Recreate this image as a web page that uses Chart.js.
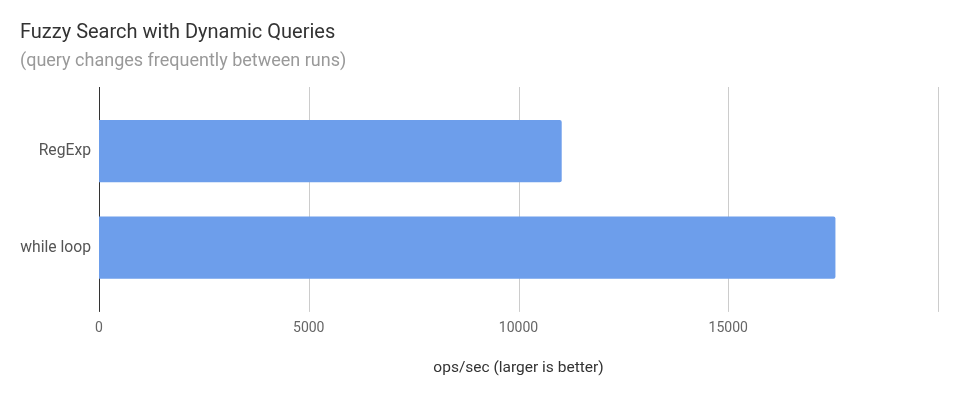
<!DOCTYPE html>
<html>
<head>
<meta charset="utf-8">
<script src="https://cdn.jsdelivr.net/npm/chart.js@4/dist/chart.umd.min.js"></script>
<style>
  html, body { margin: 0; padding: 0; background: #fff; }
  #c { display: block; }
</style>
</head>
<body>
<canvas id="c" width="958" height="398"></canvas>
<script>
// data
const categories = ['RegExp', 'while loop'];
const opsPerSec = [11030, 17555];
const xTicks = [0, 5000, 10000, 15000, 20000];

const FONT = 'Roboto, "Noto Sans", sans-serif';

// google-charts style gridlines: run a little above/below the plot area
const extendedGrid = {
  id: 'extendedGrid',
  beforeDatasetsDraw(chart) {
    const { ctx, chartArea } = chart;
    const x = chart.scales.x;
    const top = chartArea.top - 16, bottom = chartArea.bottom + 16;
    ctx.save();
    ctx.lineWidth = 1;
    xTicks.forEach((v) => {
      const px = Math.round(x.getPixelForValue(v)) + 0.5;
      ctx.strokeStyle = v === 0 ? '#333' : '#ccc';
      ctx.beginPath();
      ctx.moveTo(px, top);
      ctx.lineTo(px, bottom);
      ctx.stroke();
    });
    ctx.restore();
  },
};

new Chart(document.getElementById('c'), {
  type: 'bar',
  data: {
    labels: categories,
    datasets: [{
      data: opsPerSec,
      backgroundColor: '#6d9eeb',
      borderRadius: 2,
      borderSkipped: 'start',
      categoryPercentage: 1,
      barPercentage: 0.645,
    }],
  },
  options: {
    indexAxis: 'y',
    responsive: false,
    animation: false,
    layout: { padding: { left: 20, right: 20, top: 0, bottom: 20.7 } },
    scales: {
      x: {
        type: 'linear',
        min: 0,
        max: 20000,
        afterBuildTicks(s) { s.ticks = xTicks.map((v) => ({ value: v })); },
        afterFit(s) {
          s.height = 81.4;
          s.paddingLeft = 0;
          s.paddingRight = 0;
        },
        grid: { display: false },
        border: { display: false },
        ticks: {
          padding: 16,
          color: '#666',
          font: { family: FONT, size: 14 },
          callback: (v) => (v === 20000 ? '' : String(v)),
        },
        title: {
          display: true,
          text: 'ops/sec (larger is better)',
          color: '#333',
          font: { family: FONT, size: 15.5 },
          padding: { top: 0, bottom: 0 },
        },
      },
      y: {
        afterFit(s) { s.width = 79; },
        grid: { display: false },
        border: { display: false },
        ticks: {
          color: '#555',
          padding: 0,
          font: { family: FONT, size: 15.7 },
        },
      },
    },
    plugins: {
      legend: { display: false },
      tooltip: { enabled: false },
      title: {
        display: true,
        text: 'Fuzzy Search with Dynamic Queries',
        align: 'start',
        color: '#333',
        font: { family: FONT, size: 20, weight: 'normal' },
        padding: { top: 21, bottom: 6 },
      },
      subtitle: {
        display: true,
        text: '(query changes frequently between runs)',
        align: 'start',
        color: '#999',
        font: { family: FONT, size: 18, weight: 'normal' },
        padding: { top: 0, bottom: 30.4 },
      },
    },
  },
  plugins: [extendedGrid],
});
</script>
</body>
</html>
